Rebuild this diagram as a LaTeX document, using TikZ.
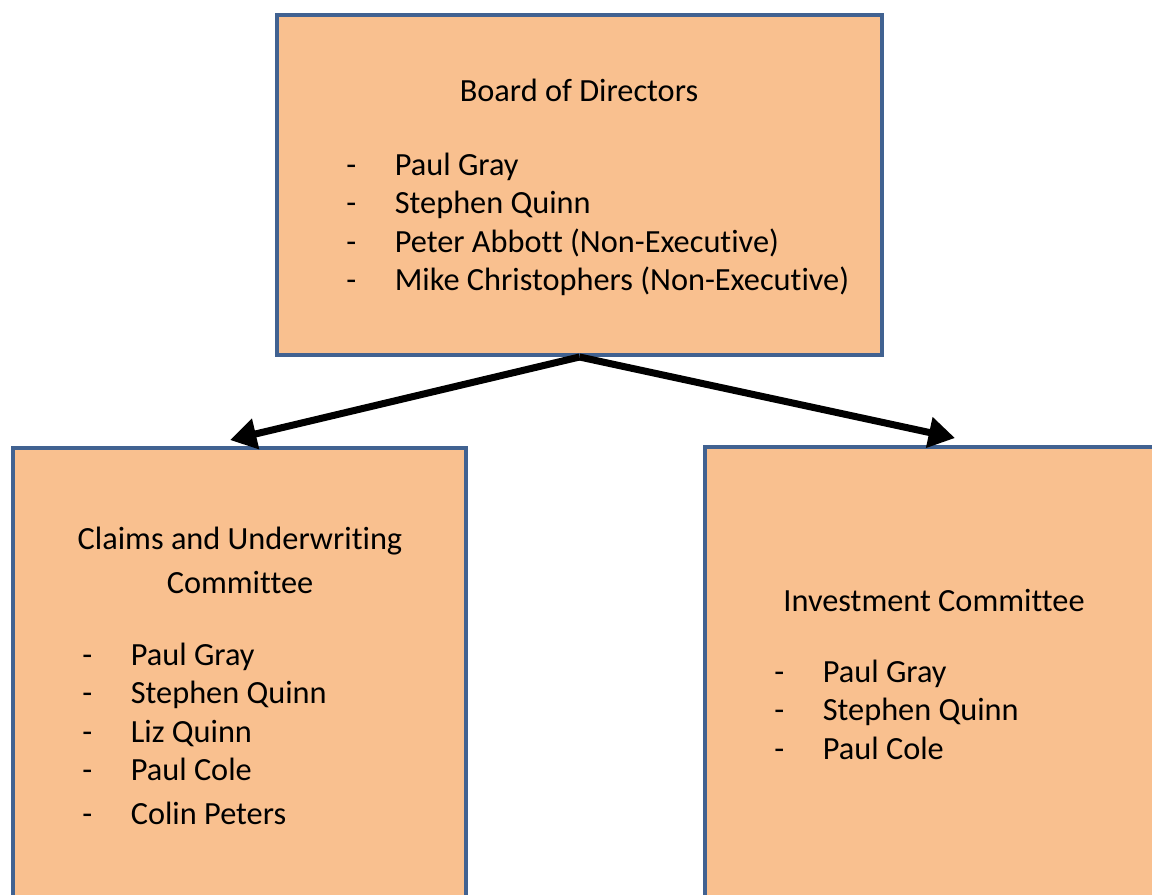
\documentclass[tikz,border=0pt]{standalone}
\usepackage{fontspec}
\setmainfont{Carlito}[Ligatures=CommonOff]
\usetikzlibrary{arrows.meta}

\definecolor{boxblue}{RGB}{65,98,145}
\definecolor{boxfill}{RGB}{249,192,143}

% dash + name rows, first row sets the baseline
\newcommand{\memberlist}[1]{\begin{tabular}[t]{@{}p{0.97cm}@{}l@{}}#1\end{tabular}}

\begin{document}
\begin{tikzpicture}[x=0.02cm, y=-0.02cm,
                    org box/.style={rectangle,draw=boxblue,fill=boxfill,line width=2.3pt},
                    label text/.style={font=\fontsize{18.4}{22}\selectfont,inner sep=0pt},
                    link/.style={line width=4pt,-{Triangle[length=15pt,width=17pt]}}]

  \clip (0,0) rectangle (1152,895);

  % boxes
  \node[org box,minimum width=12.1cm,minimum height=6.8cm] (board) at (579.5,185) {};
  \node[org box,minimum width=9.06cm,minimum height=10.3cm] (claims) at (239.5,705.5) {};
  \node[org box,minimum width=9.16cm,minimum height=10.3cm] (invest) at (934,704.5) {};

  % board
  \node[label text,anchor=base] (board title) at (579,102) {Board of Directors};
  \node[label text,anchor=base west] (board list) at (346,175)
    {\memberlist{-&Paul Gray\\-&Stephen Quinn\\-&Peter Abbott (Non-Executive)\\-&Mike Christophers (Non-Executive)}};

  % claims and underwriting
  \node[label text,anchor=base] (claims title) at (240,549)
    {\begin{tabular}[t]{@{}c@{}}Claims and Underwriting\\[3.5pt]Committee\end{tabular}};
  \node[label text,anchor=base west] (claims list) at (82,665)
    {\memberlist{-&Paul Gray\\-&Stephen Quinn\\-&Liz Quinn\\-&Paul Cole\\[2.5pt]-&Colin Peters}};

  % investment
  \node[label text,anchor=base] (invest title) at (934,611) {Investment Committee};
  \node[label text,anchor=base west] (invest list) at (774,682)
    {\memberlist{-&Paul Gray\\-&Stephen Quinn\\-&Paul Cole}};

  % reporting lines
  \draw[link] (board.south) -- ([shift={(-9.5,-6)}]claims.north);
  \draw[link] (board.south) -- ([shift={(21,-7)}]invest.north);

\end{tikzpicture}
\end{document}
